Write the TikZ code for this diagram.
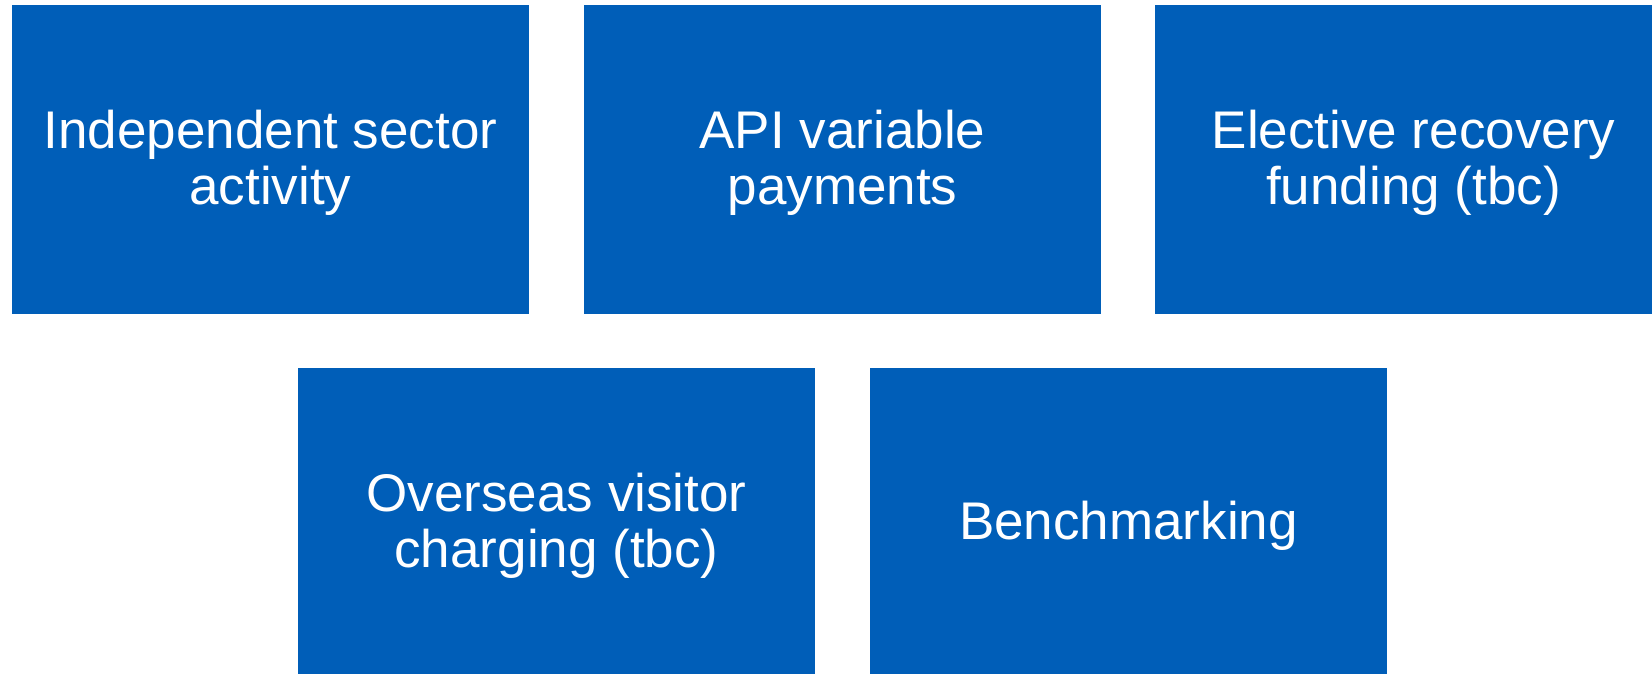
\documentclass[tikz,border=0pt]{standalone}
\usepackage{fontspec}
\setmainfont{Liberation Sans}
\definecolor{nhsblue}{RGB}{0,94,184}
\begin{document}
\begin{tikzpicture}[x=1pt,y=-1pt,
  blk/.style={fill=nhsblue, draw=none, minimum width=517pt, minimum height=309pt, inner sep=0pt},
  lbl/.style={text=white, align=center, inner sep=0pt, font=\fontsize{53}{55.5}\selectfont}]
\useasboundingbox (0,0) rectangle (1652,674);
\clip (0,0) rectangle (1652,674);
\fill[white] (0,0) rectangle (1652,674);
\node[blk] (a) at (270.5,159.5) {};
\node[blk] (b) at (842.5,159.5) {};
\node[blk] (c) at (1413.5,159.5) {};
\node[blk] (d) at (556.5,522.5) {};
\node[blk] (e) at (1128.5,522.5) {};
\node[lbl] (ta) at ([yshift=-3.5pt]a.center) {Independent sector\\activity};
\node[lbl] (tb) at ([yshift=-3.5pt]b.center) {API variable\\payments};
\node[lbl] (tc) at ([yshift=-3.5pt]c.center) {Elective recovery\\funding (tbc)};
\node[lbl] (td) at ([yshift=-3.5pt]d.center) {Overseas visitor\\charging (tbc)};
\node[lbl] (te) at ([yshift=-3.5pt]e.center) {Benchmarking};
\end{tikzpicture}
\end{document}
